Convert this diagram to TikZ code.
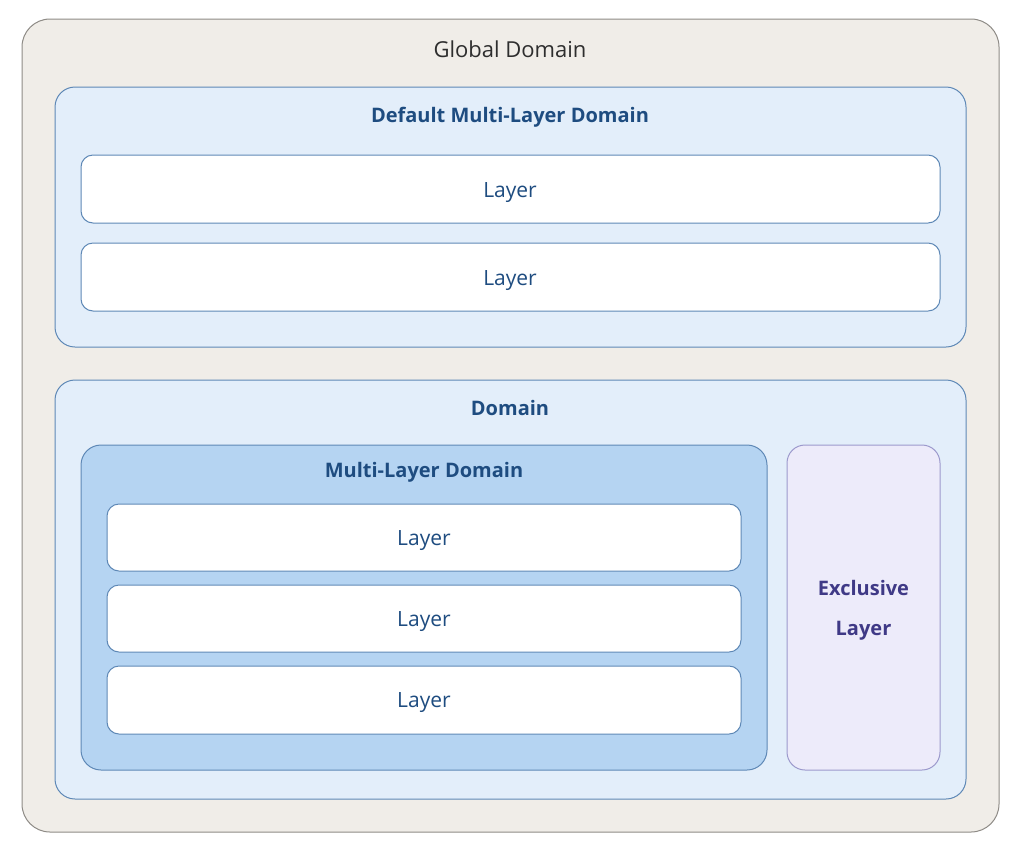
\documentclass[tikz,border=0pt]{standalone}
\usepackage{fontspec}
\setmainfont{Open Sans}
\definecolor{gfill}{HTML}{F0EDE8}
\definecolor{gline}{HTML}{8E8B86}
\definecolor{dfill}{HTML}{E3EEFA}
\definecolor{dline}{HTML}{5E88B6}
\definecolor{mfill}{HTML}{B5D4F2}
\definecolor{efill}{HTML}{EDEBFA}
\definecolor{eline}{HTML}{9C99CC}
\definecolor{btext}{HTML}{1E4C80}
\definecolor{ptext}{HTML}{3F3986}
\definecolor{gtext}{HTML}{2E2E2E}
\tikzset{
  box/.style={line width=1pt},
  lbl/.style={font=\fontsize{21}{25}\selectfont, text=btext, anchor=base, inner sep=0pt},
  ttl/.style={font=\fontsize{20}{24}\selectfont\bfseries, text=btext, anchor=base, inner sep=0pt},
}
\begin{document}
\begin{tikzpicture}[x=1pt,y=-1pt]
\useasboundingbox (0,0) rectangle (1024,855);
% Global
\draw[box, fill=gfill, draw=gline, rounded corners=28pt] (22,19) rectangle (999,832);
\node[lbl, text=gtext, font=\fontsize{22}{26}\selectfont] (gt) at (510,57) {Global Domain};
% Default multi-layer domain
\draw[box, fill=dfill, draw=dline, rounded corners=20pt] (55,87) rectangle (966,347);
\node[ttl] (dt) at (510,122) {Default Multi-Layer Domain};
\draw[box, fill=white, draw=dline, rounded corners=12pt] (81,155) rectangle (940,223);
\node[lbl] (l1) at (510,197) {Layer};
\draw[box, fill=white, draw=dline, rounded corners=12pt] (81,243) rectangle (940,311);
\node[lbl] (l2) at (510,285) {Layer};
% Domain
\draw[box, fill=dfill, draw=dline, rounded corners=20pt] (55,380) rectangle (966,799);
\node[ttl] (dm) at (510,415) {Domain};
% Multi-layer domain
\draw[box, fill=mfill, draw=dline, rounded corners=20pt] (81,445) rectangle (767,770);
\node[ttl] (mt) at (424,477) {Multi-Layer Domain};
\draw[box, fill=white, draw=dline, rounded corners=12pt] (107,504) rectangle (741,571);
\node[lbl] (l3) at (424,545) {Layer};
\draw[box, fill=white, draw=dline, rounded corners=12pt] (107,585) rectangle (741,652);
\node[lbl] (l4) at (424,626) {Layer};
\draw[box, fill=white, draw=dline, rounded corners=12pt] (107,666) rectangle (741,734);
\node[lbl] (l5) at (424,707) {Layer};
% Exclusive layer
\draw[box, fill=efill, draw=eline, rounded corners=18pt] (787,445) rectangle (940,770);
\node[ttl, text=ptext] (e1) at (863.5,595) {Exclusive};
\node[ttl, text=ptext] (e2) at (863.5,635) {Layer};
\end{tikzpicture}
\end{document}
